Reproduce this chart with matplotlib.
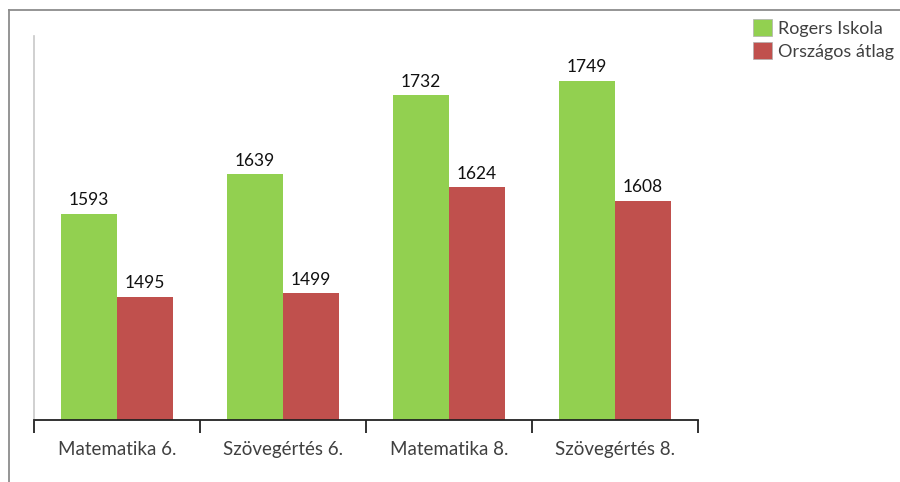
import matplotlib.pyplot as plt
import numpy as np
from matplotlib.patches import Patch
from matplotlib.lines import Line2D

kategoriak = ['Matematika 6.', 'Szövegértés 6.', 'Matematika 8.', 'Szövegértés 8.']
rogers = [1593, 1639, 1732, 1749]
orszagos = [1495, 1499, 1624, 1608]
sorozatok = ['Rogers Iskola', 'Országos átlag']

zold = '#92D050'
piros = '#C0504D'
szoveg = '#404040'

plt.rcParams['font.family'] = ['Lato', 'DejaVu Sans']

fig = plt.figure(figsize=(9, 4.82), dpi=100)
ax = fig.add_axes([34 / 900, 1 - 420 / 482, 664 / 900, 384 / 482])

x = np.arange(len(kategoriak))
w = 0.335
b1 = ax.bar(x - w / 2, rogers, w, color=zold)
b2 = ax.bar(x + w / 2, orszagos, w, color=piros)

for rects, vals in [(b1, rogers), (b2, orszagos)]:
    for r, v in zip(rects, vals):
        ax.annotate(str(v), (r.get_x() + r.get_width() / 2, v),
                    xytext=(0, 4), textcoords='offset points',
                    ha='center', va='bottom', fontsize=12.5, color='#111111')

ax.set_xlim(-0.5, len(kategoriak) - 0.5)
ax.set_ylim(1350, 1802)
ax.set_yticks([])
ax.set_xticks(x)
ax.set_xticklabels(kategoriak, fontsize=13.5, color=szoveg)
ax.tick_params(axis='x', length=0, pad=15)
ax.set_xticks(np.arange(len(kategoriak) + 1) - 0.5, minor=True)
ax.tick_params(axis='x', which='minor', length=9, width=1.3, color='#222222')

for s in ['top', 'right']:
    ax.spines[s].set_visible(False)
ax.spines['left'].set_color('#c8c8c8')
ax.spines['left'].set_linewidth(1.2)
ax.spines['bottom'].set_color('#222222')
ax.spines['bottom'].set_linewidth(1.3)

# keret
fig.add_artist(Line2D([9 / 900, 9 / 900], [0, 1 - 10 / 482], transform=fig.transFigure,
                      color='#8c8c8c', lw=1.3))
fig.add_artist(Line2D([9 / 900, 1], [1 - 10 / 482, 1 - 10 / 482], transform=fig.transFigure,
                      color='#8c8c8c', lw=1.3))

handles = [Patch(facecolor=zold, edgecolor='#b0b0b0', lw=0.5),
           Patch(facecolor=piros, edgecolor='#b0b0b0', lw=0.5)]
fig.legend(handles, sorozatok, loc='upper left', bbox_to_anchor=(746 / 900, 1 - 12 / 482),
           frameon=False, fontsize=13, handlelength=1.05, handleheight=1.05,
           handletextpad=0.3, labelspacing=0.3, labelcolor=szoveg, borderaxespad=0)

fig.savefig('out.png', dpi=100)
